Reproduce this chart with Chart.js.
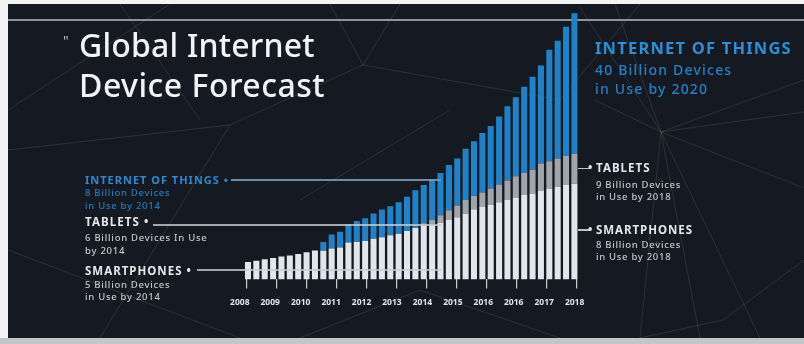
<!DOCTYPE html>
<html>
<head>
<meta charset="utf-8">
<script src="https://cdn.jsdelivr.net/npm/chart.js@4.4.0/dist/chart.umd.min.js"></script>
<style>
  body { margin: 0; width: 804px; height: 344px; background: #f3f3f3; position: relative; overflow: hidden; font-family: "Noto Sans", "Open Sans", sans-serif; }
  #panel { position: absolute; left: 8px; top: 4px; width: 796px; height: 334px; background: #151a22; }
  #foot { position: absolute; left: 0; top: 338px; width: 804px; height: 6px; background: #c4c5c7; }
  #bg { position: absolute; left: 0; top: 0; }
  #topline { position: absolute; left: 8px; top: 19px; width: 796px; height: 2px; background: #8f949a; }
  #wrap { position: absolute; left: 0; top: 0; width: 804px; height: 344px; }
  .t { position: absolute; white-space: nowrap; line-height: 1; }
  .ln { position: absolute; height: 1.5px; }
</style>
</head>
<body>
<div id="panel"></div>
<svg id="bg" width="804" height="344" stroke="#ffffff" stroke-opacity="0.1" stroke-width="1">
  <line x1="661" y1="132" x2="579" y2="6"/>
  <line x1="661" y1="132" x2="615" y2="4"/>
  <line x1="661" y1="132" x2="804" y2="80"/>
  <line x1="661" y1="132" x2="804" y2="112"/>
  <line x1="661" y1="132" x2="804" y2="188"/>
  <line x1="661" y1="132" x2="595" y2="100"/>
  <line x1="661" y1="132" x2="700" y2="338"/>
  <line x1="661" y1="132" x2="640" y2="338"/>
  <line x1="661" y1="132" x2="760" y2="338"/>
  <line x1="363" y1="65" x2="230" y2="125"/>
  <line x1="363" y1="65" x2="400" y2="4"/>
  <line x1="363" y1="65" x2="560" y2="100"/>
  <line x1="363" y1="65" x2="330" y2="4"/>
  <line x1="560" y1="100" x2="640" y2="4"/>
  <line x1="230" y1="125" x2="100" y2="338"/>
  <line x1="230" y1="125" x2="8" y2="150"/>
  <line x1="170" y1="4" x2="8" y2="110"/>
  <line x1="120" y1="4" x2="200" y2="120"/>
  <line x1="8" y1="250" x2="240" y2="338"/>
  <line x1="300" y1="338" x2="420" y2="290"/>
  <line x1="420" y1="290" x2="560" y2="338"/>
  <line x1="804" y1="260" x2="723" y2="320"/>
  <line x1="723" y1="320" x2="640" y2="338"/>
  <line x1="450" y1="110" x2="300" y2="200"/>
</svg>
<div id="topline"></div>
<div id="wrap"><canvas id="forecastChart" width="804" height="344"></canvas></div>
<div id="notes"></div>
<div id="foot"></div>
<script>
// 40 quarterly bars, 2008 Q1 .. 2017 Q4
const years = [2008, 2009, 2010, 2011, 2012, 2013, 2014, 2015, 2016, 2017];
const quarters = years.flatMap(y => ['Q1', 'Q2', 'Q3', 'Q4'].map(q => y + ' ' + q));

// labels under the axis, as printed (2016 twice)
const yearLabels = ['2008', '2009', '2010', '2011', '2012', '2013', '2014', '2015', '2016', '2016', '2017', '2018'];
const tickMarks = [0, 1, 2, 3, 4, 5, 6, 7, 8, 9, 10];

// device counts (relative units)
const smartphones = [1.80, 1.93, 2.07, 2.20, 2.37, 2.47, 2.63, 2.80, 2.97, 2.95,
                     3.20, 3.30, 3.80, 3.87, 3.97, 4.20, 4.35, 4.55, 4.72, 5.00,
                     5.30, 5.55, 5.65, 5.87, 6.13, 6.40, 6.80, 7.25, 7.47, 7.70,
                     7.97, 8.20, 8.40, 8.70, 8.87, 9.13, 9.37, 9.53, 9.73, 9.87];
const tablets = [0, 0, 0, 0, 0, 0, 0, 0, 0, 0,
                 0, 0, 0, 0, 0, 0, 0, 0, 0, 0,
                 0, 0.25, 0.48, 0.76, 1.00, 1.23, 1.40, 1.38, 1.50, 1.67,
                 1.83, 2.00, 2.23, 2.27, 2.43, 2.84, 2.83, 2.94, 3.00, 3.10];
const iot = [0, 0, 0, 0, 0, 0, 0, 0, 0, 0.90,
             1.43, 1.62, 1.90, 2.16, 2.33, 2.60, 2.85, 3.00, 3.25, 3.53,
             3.90, 3.93, 4.17, 4.34, 4.67, 4.84, 5.27, 5.62, 6.13, 6.46,
             7.00, 7.67, 8.17, 8.90, 9.60, 10.10, 11.50, 12.16, 13.34, 14.50];

// annotation texts: [text, x, baseline, size, weight, color, letterSpacing]
const notes = [
    ['Global Internet', 79, 57, 32, 500, '#f3f4f5', 0.2],
    ['Device Forecast', 79, 97, 32, 500, '#f3f4f5', 0.5],
    ['"', 63, 46, 14, 400, '#b9bdc2', 0],
    ['INTERNET OF THINGS', 595, 55, 16.5, 700, '#2a8fd6', 1.2],
    ['40 Billion Devices', 595, 75, 14, 500, '#2481c4', 1.2],
    ['in Use by 2020', 595, 94, 14, 500, '#2481c4', 1.2],
    ['\u2022', 588, 172.7, 11.5, 700, '#e4e6e9', 0],
    ['TABLETS', 596, 172.7, 11.5, 700, '#e4e6e9', 1.05],
    ['9 Billion Devices', 596, 188.3, 9.5, 500, '#c3c6ca', 0.7],
    ['in Use by 2018', 596, 200, 9.5, 500, '#c3c6ca', 0.7],
    ['\u2022', 588, 234, 11.5, 700, '#e4e6e9', 0],
    ['SMARTPHONES', 596, 234, 11.5, 700, '#e4e6e9', 0.95],
    ['8 Billion Devices', 596, 248.3, 9.5, 500, '#c3c6ca', 0.7],
    ['in Use by 2018', 596, 260, 9.5, 500, '#c3c6ca', 0.7],
    ['INTERNET OF THINGS \u2022', 85, 184, 11, 700, '#2a8bd0', 1.0],
    ['8 Billion Devices', 85, 196.7, 9.5, 500, '#2779b8', 0.72],
    ['in Use by 2014', 85, 209.3, 9.5, 500, '#2779b8', 0.72],
    ['TABLETS \u2022', 85, 226.7, 11.5, 700, '#e4e6e9', 1.1],
    ['6 Billion Devices In Use', 85, 241.7, 9.5, 500, '#c3c6ca', 0.75],
    ['by 2014', 85, 254, 9.5, 500, '#c3c6ca', 0.75],
    ['SMARTPHONES \u2022', 85, 275, 11.5, 700, '#e4e6e9', 1.0],
    ['5 Billion Devices', 85, 288.3, 9.5, 500, '#c3c6ca', 0.72],
    ['in Use by 2014', 85, 300.7, 9.5, 500, '#c3c6ca', 0.72]
];

// leader lines: [x1, x2, y, color]
const leaders = [
    [231, 441, 180, 'rgba(125,160,190,0.85)'],
    [153, 441, 225, 'rgba(200,204,209,0.8)'],
    [197, 441, 270, 'rgba(200,204,209,0.8)'],
    [578, 590, 168.5, 'rgba(210,213,217,0.9)'],
    [578, 590, 229.8, 'rgba(210,213,217,0.9)']
];

function drawNotes() {
    const box = document.getElementById('notes');
    notes.forEach(n => {
        const d = document.createElement('div');
        d.className = 't';
        d.textContent = n[0];
        d.style.left = n[1] + 'px';
        d.style.top = (n[2] - 0.888 * n[3]) + 'px';
        d.style.fontSize = n[3] + 'px';
        d.style.fontWeight = n[4];
        d.style.color = n[5];
        d.style.letterSpacing = n[6] + 'px';
        box.appendChild(d);
    });
    leaders.forEach(l => {
        const d = document.createElement('div');
        d.className = 'ln';
        d.style.left = l[0] + 'px';
        d.style.width = (l[1] - l[0]) + 'px';
        d.style.top = (l[2] - 0.75) + 'px';
        d.style.background = l[3];
        box.appendChild(d);
    });
}

function createChart() {
    const ctx = document.getElementById('forecastChart').getContext('2d');
    new Chart(ctx, {
        type: 'bar',
        data: {
            labels: quarters,
            datasets: [
                { label: 'Smartphones', data: smartphones, backgroundColor: '#e2e6eb' },
                { label: 'Tablets', data: tablets, backgroundColor: '#a1a5aa' },
                { label: 'Internet of Things', data: iot, backgroundColor: '#1f82c6' }
            ]
        },
        options: {
            responsive: false,
            animation: false,
            layout: { padding: { left: 243.8, right: 225.4, top: 8, bottom: 35.4 } },
            datasets: { bar: { barPercentage: 0.72, categoryPercentage: 1, borderWidth: 0 } },
            plugins: { legend: { display: false }, tooltip: { enabled: false } },
            scales: {
                x: { display: false, stacked: true },
                y: { display: false, stacked: true, min: 0, max: 28 },
                xt: {
                    type: 'linear',
                    position: 'bottom',
                    weight: 0,
                    min: -0.09,
                    max: 10.06,
                    afterBuildTicks: axis => { axis.ticks = tickMarks.map(v => ({ value: v })); },
                    ticks: { display: false },
                    border: { display: false },
                    grid: { drawOnChartArea: false, drawTicks: true, tickLength: 9, color: '#c9ccd0', lineWidth: 1.2 }
                },
                x2: {
                    type: 'category',
                    position: 'bottom',
                    weight: 1,
                    labels: yearLabels,
                    offset: false,
                    border: { display: false },
                    grid: { display: false },
                    ticks: {
                        autoSkip: false,
                        maxRotation: 0,
                        padding: 1,
                        labelOffset: -4,
                        color: '#e1e4e7',
                        font: { family: '"Noto Sans", sans-serif', size: 8.5, weight: 'bold' }
                    }
                }
            }
        }
    });
}

window.onload = function() {
    drawNotes();
    createChart();
};
</script>
</body>
</html>
